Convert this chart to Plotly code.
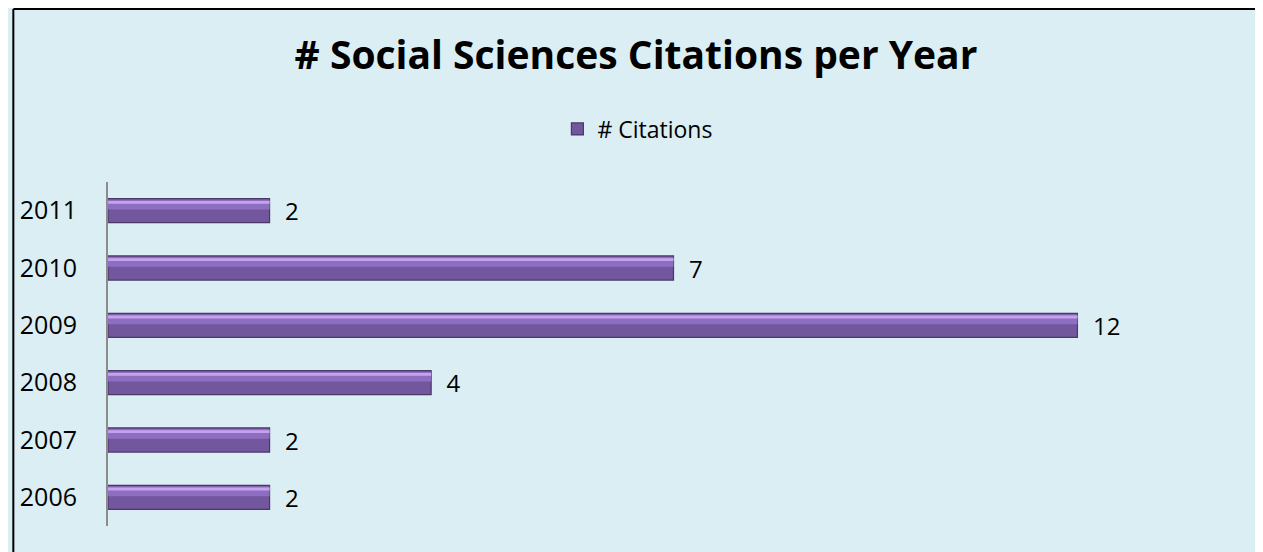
import plotly.graph_objects as go

years = ["2006", "2007", "2008", "2009", "2010", "2011"]
citations = [2, 2, 4, 12, 7, 2]
series_name = "# Citations"
title_text = "# Social Sciences Citations per Year"

BG = "#DAEEF3"
FONT = "Open Sans, Calibri, sans-serif"

# page is drawn with an 8px body margin -> figure coordinates = page - 8
W, H = 1255, 544
L, R, T, B = 96, 24, 174, 26
pw, ph = W - L - R, H - T - B

fig = go.Figure()
fig.add_trace(go.Bar(
    y=years, x=citations, orientation="h", name=series_name,
    marker=dict(color="#72579E", line=dict(color="#4A3866", width=1.2)),
    width=0.42,
    text=citations, texttemplate="  %{x}", textposition="outside",
    textfont=dict(size=24, color="#000000", family=FONT),
    constraintext="none",
    cliponaxis=False, hoverinfo="skip",
))
fig.add_trace(go.Bar(
    y=years, x=citations, orientation="h", showlegend=False, hoverinfo="skip",
    marker=dict(color="#8E6EC0", line=dict(width=0)),
    width=0.17, offset=0.02,
))
fig.add_trace(go.Bar(
    y=years, x=citations, orientation="h", showlegend=False, hoverinfo="skip",
    marker=dict(color="#C6A2EE", line=dict(width=0)),
    width=0.05, offset=0.12,
))

fig.update_layout(
    width=W, height=H,
    margin=dict(l=L, r=R, t=T, b=B),
    paper_bgcolor=BG, plot_bgcolor=BG,
    barmode="overlay",
    font=dict(family=FONT, size=24, color="#000000"),
    title=dict(text=title_text, x=(636 - 8) / W, xanchor="center", y=1 - 47 / H, yanchor="middle",
               font=dict(family=FONT, size=39, color="#000000", weight="bold")),
    showlegend=True,
    legend=dict(orientation="h", x=(547 - L) / pw, xanchor="left",
                y=(H - B - 121) / ph, yanchor="middle",
                font=dict(size=23, family=FONT), itemwidth=30, bgcolor="rgba(0,0,0,0)"),
    xaxis=dict(range=[0, 14], showgrid=False, zeroline=False, showticklabels=False,
               showline=False, fixedrange=True),
    yaxis=dict(type="category", categoryorder="array", categoryarray=years,
               range=[-0.5, 5.5], showgrid=False, zeroline=False,
               showline=True, linecolor="#8C8C8C", linewidth=2,
               ticks="", ticklabelstandoff=24, tickfont=dict(size=25, family=FONT)),
    shapes=[
        dict(type="line", xref="paper", yref="paper",
             x0=(1 - L) / pw, x1=(W - L) / pw, y0=(H - B - 1) / ph, y1=(H - B - 1) / ph,
             line=dict(color="#000000", width=2)),
        dict(type="line", xref="paper", yref="paper",
             x0=(1 - L) / pw, x1=(1 - L) / pw, y0=(H - B - 1) / ph, y1=(H - B - H) / ph,
             line=dict(color="#000000", width=2)),
    ],
)

fig.write_html("out.html")
